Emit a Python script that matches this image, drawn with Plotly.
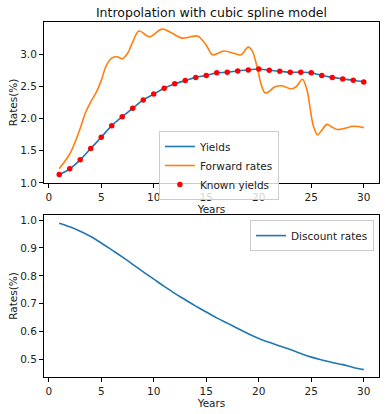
import plotly.graph_objects as go

years = list(range(1, 31))
known_yields = [1.13, 1.22, 1.36, 1.535, 1.71, 1.89, 2.03, 2.16, 2.29, 2.38,
                2.47, 2.54, 2.59, 2.64, 2.67, 2.71, 2.72, 2.74, 2.755, 2.77,
                2.75, 2.735, 2.72, 2.72, 2.71, 2.67, 2.64, 2.615, 2.595, 2.57]

fwd_t = [1, 1.5, 2, 2.5, 3, 3.5, 4, 4.5, 5, 5.5, 6, 6.5, 7, 7.5, 8, 8.6, 9.6,
         10.8, 11.8, 12.7, 13.5, 14.2, 15.0, 15.6, 16.2, 16.7, 17.7, 18.3,
         19.0, 19.35, 19.8, 20.25, 20.6, 20.9, 21.5, 22.2, 23.1, 23.6, 24.15,
         24.6, 24.9, 25.2, 25.6, 26.0, 26.5, 26.96, 27.5, 28.2, 29.0, 30]
fwd_rates = [1.22, 1.33, 1.45, 1.63, 1.85, 2.09, 2.26, 2.40, 2.59, 2.83, 2.94,
             2.96, 2.93, 3.01, 3.19, 3.36, 3.27, 3.39, 3.32, 3.25, 3.27, 3.28,
             3.14, 2.99, 3.02, 3.05, 3.01, 2.99, 3.11, 3.06, 2.83, 2.52, 2.40,
             2.41, 2.49, 2.51, 2.46, 2.50, 2.61, 2.44, 2.15, 1.89, 1.75, 1.82,
             1.91, 1.87, 1.83, 1.85, 1.88, 1.86]

discount = [0.989, 0.976, 0.960, 0.941, 0.918, 0.893, 0.868, 0.841, 0.814, 0.788,
            0.762, 0.737, 0.714, 0.691, 0.670, 0.649, 0.630, 0.611, 0.592, 0.575,
            0.561, 0.548, 0.535, 0.521, 0.508, 0.498, 0.489, 0.481, 0.471, 0.463]

BLUE = "#1f77b4"
ORANGE = "#ff7f0e"
FONT = "DejaVu Sans"

fig = go.Figure()
fig.add_trace(go.Scatter(x=years, y=known_yields, mode="lines", name="Yields",
                         line=dict(color=BLUE, width=1.6, shape="spline"),
                         xaxis="x", yaxis="y", legend="legend"))
fig.add_trace(go.Scatter(x=fwd_t, y=fwd_rates, mode="lines", name="Forward rates",
                         line=dict(color=ORANGE, width=1.6, shape="spline", smoothing=1.0),
                         xaxis="x", yaxis="y", legend="legend"))
fig.add_trace(go.Scatter(x=years, y=known_yields, mode="markers", name="Known yields",
                         marker=dict(color="red", size=5.5),
                         xaxis="x", yaxis="y", legend="legend"))
fig.add_trace(go.Scatter(x=years, y=discount, mode="lines", name="Discount rates",
                         line=dict(color=BLUE, width=1.6, shape="spline"),
                         xaxis="x2", yaxis="y2", legend="legend2"))

axis_common = dict(showline=True, linecolor="black", linewidth=1, mirror=True,
                   ticks="outside", ticklen=4, tickcolor="black", showgrid=False,
                   zeroline=False, automargin=False,
                   tickfont=dict(size=10.5, color="#222"),
                   title_font=dict(size=10.5, color="#222"))

fig.update_layout(
    width=386, height=414,
    margin=dict(l=44, r=7, t=22, b=37),
    paper_bgcolor="white", plot_bgcolor="white",
    font=dict(family=FONT, size=10.5, color="#222"),
    title=dict(text="Intropolation with cubic spline model", x=0.5, xref="paper",
               y=1 - 13 / 414, yref="container", xanchor="center", yanchor="middle",
               font=dict(size=12.5, color="#111")),
    xaxis=dict(domain=[0, 1], anchor="y", range=[-0.45, 31.45],
               tickvals=[0, 5, 10, 15, 20, 25, 30],
               title=dict(text="Years", standoff=0), **axis_common),
    yaxis=dict(domain=[0.5465, 1], anchor="x", range=[1.0, 3.5],
               tickvals=[1.0, 1.5, 2.0, 2.5, 3.0], ticktext=["1.0", "1.5", "2.0", "2.5", "3.0"],
               title=dict(text="Rates(%)", standoff=0), **axis_common),
    xaxis2=dict(domain=[0, 1], anchor="y2", range=[-0.45, 31.45],
                tickvals=[0, 5, 10, 15, 20, 25, 30],
                title=dict(text="Years", standoff=0), **axis_common),
    yaxis2=dict(domain=[0, 0.4563], anchor="x2", range=[0.4366, 1.0184],
                tickvals=[0.5, 0.6, 0.7, 0.8, 0.9, 1.0],
                ticktext=["0.5", "0.6", "0.7", "0.8", "0.9", "1.0"],
                title=dict(text="Rates(%)", standoff=0), **axis_common),
    legend=dict(x=0.343, y=0.693, xanchor="left", yanchor="top",
                bgcolor="rgba(255,255,255,0.8)", bordercolor="#ccc", borderwidth=1,
                font=dict(size=10.5, color="#222"), itemwidth=30, tracegroupgap=0),
    legend2=dict(x=0.985, y=0.442, xanchor="right", yanchor="top",
                 bgcolor="rgba(255,255,255,0.8)", bordercolor="#ccc", borderwidth=1,
                 font=dict(size=10.5, color="#222"), itemwidth=30),
    showlegend=True,
)

fig.write_html("out.html", config={"displayModeBar": False},
               post_script="document.body.style.margin='0';document.body.style.padding='0';")
